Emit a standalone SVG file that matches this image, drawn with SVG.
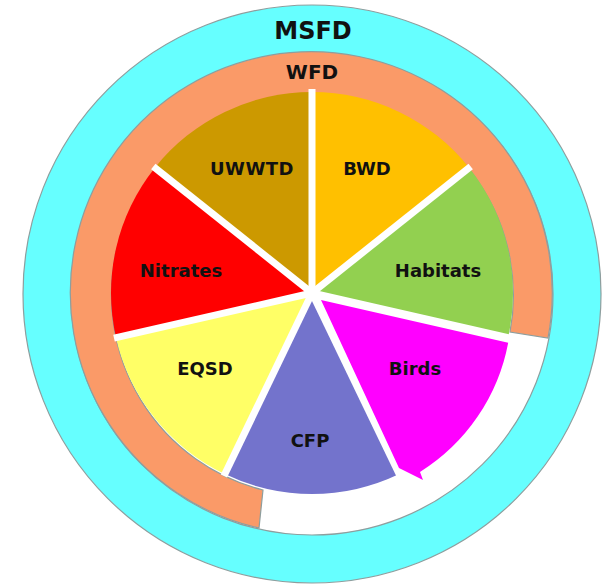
<svg xmlns="http://www.w3.org/2000/svg" width="608" height="587" viewBox="0 0 608 587">
<style>
.lbl{font-family:"DejaVu Sans","Liberation Sans",sans-serif;font-weight:bold;fill:#111;text-anchor:middle}
.sl{stroke:none}
.ring{stroke:#8e9e9e;stroke-width:1.2}
.sep{stroke:#fff;stroke-width:7;stroke-linecap:butt}
</style>
<rect width="608" height="587" fill="#fff"/>
<g id="msfd">
<path class="ring" fill="#66FFFF" fill-rule="evenodd" d="M23,294 A289,289 0 1 1 601,294 A289,289 0 1 1 23,294 Z M71,294 A241,241 0 1 0 553,294 A241,241 0 1 0 71,294 Z"/>
<text class="lbl" x="313" y="39" font-size="24">MSFD</text>
</g>
<g id="wfd">
<path class="ring" fill="#FA9A68" d="M259,528 A241,241 0 1 1 548,338 L510,332 A201,201 0 1 0 263,490 Z"/>
<text class="lbl" x="312" y="79" font-size="20">WFD</text>
</g>
<g id="bwd">
<path class="sl" fill="#FFC000" d="M312,293 L312,92 A201,201 0 0 1 469.1,167.7 Z"/>
<text class="lbl" x="367" y="175" font-size="18">BWD</text>
</g>
<g id="habitats">
<path class="sl" fill="#92D050" d="M312,293 L469.1,167.7 A201,201 0 0 1 508,337.7 Z"/>
<text class="lbl" x="438" y="277" font-size="18">Habitats</text>
</g>
<g id="cfp">
<path class="sl" fill="#7373CC" d="M312,293 L399.2,474.1 A201,201 0 0 1 224.8,474.1 Z"/>
<text class="lbl" x="310" y="447" font-size="18">CFP</text>
</g>
<g id="eqsd">
<path class="sl" fill="#FFFF66" d="M312,293 L224.8,474.1 A201,201 0 0 1 116,337.7 Z"/>
<text class="lbl" x="205" y="375" font-size="18">EQSD</text>
</g>
<g id="nitrates">
<path class="sl" fill="#FF0000" d="M312,293 L116,337.7 A201,201 0 0 1 154.9,167.7 Z"/>
<text class="lbl" x="181" y="277" font-size="18">Nitrates</text>
</g>
<g id="uwwtd">
<path class="sl" fill="#CC9900" d="M312,293 L154.9,167.7 A201,201 0 0 1 312,92 Z"/>
<text class="lbl" x="252" y="175" font-size="18" letter-spacing="0.5">UWWTD</text>
</g>
<g id="connectors">
<line class="sep" x1="312" y1="293" x2="312" y2="89"/>
<line class="sep" x1="312" y1="293" x2="470.7" y2="166.4"/>
<line class="sep" x1="312" y1="293" x2="510" y2="338.2"/>
<line class="sep" x1="312" y1="293" x2="400.1" y2="476"/>
<line class="sep" x1="312" y1="293" x2="223.9" y2="476"/>
<line class="sep" x1="312" y1="293" x2="114" y2="338.2"/>
<line class="sep" x1="312" y1="293" x2="153.3" y2="166.4"/>
<circle cx="312" cy="293" r="7" fill="#fff"/>
</g>
<g id="birds">
<path class="sl" fill="#FF00FF" d="M321,300 L508.2,342.7 A195,195 0 0 1 420,472 L423,480 L399,468 Z"/>
<text class="lbl" x="415" y="375" font-size="18">Birds</text>
</g>
</svg>
